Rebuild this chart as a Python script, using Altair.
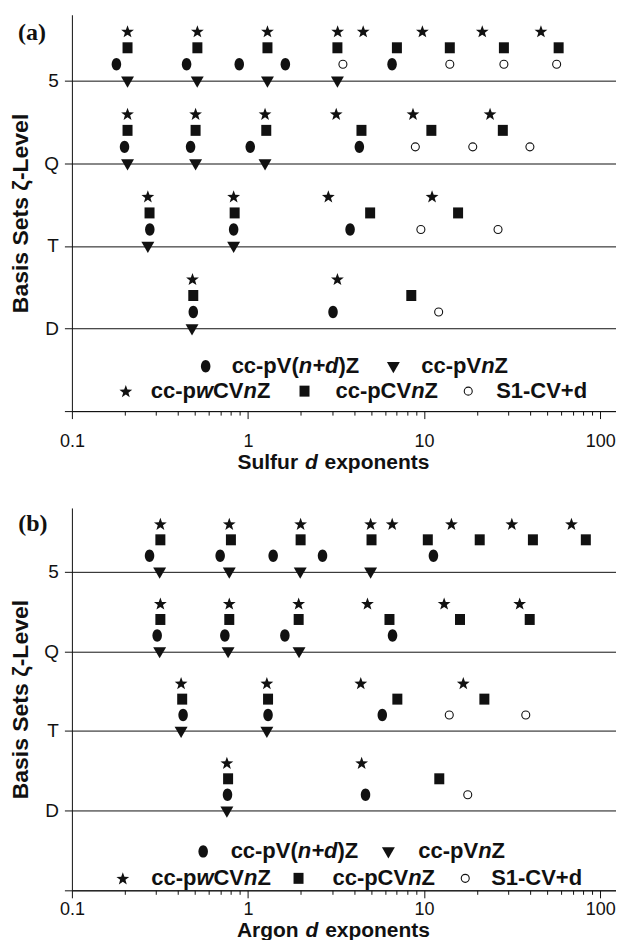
import altair as alt
import pandas as pd

INK = "#111111"
SANS = "Liberation Sans"
SERIF = "Liberation Serif"

LEVEL_NUM = {"D": 1, "T": 2, "Q": 3, "5": 4}

# ---------------- Panel (a): Sulfur d exponents ----------------
S_pVndZ = {"5": [0.179, 0.448, 0.892, 1.63, 6.58], "Q": [0.199, 0.472, 1.03, 4.29],
           "T": [0.277, 0.829, 3.80], "D": [0.489, 3.04]}
S_pVnZ = {"5": [0.207, 0.515, 1.29, 3.22], "Q": [0.207, 0.504, 1.25],
          "T": [0.270, 0.829], "D": [0.481]}
S_pwCVnZ = {"5": [0.207, 0.516, 1.29, 3.23, 4.51, 9.78, 21.4, 46.1],
            "Q": [0.207, 0.504, 1.25, 3.17, 8.65, 23.7],
            "T": [0.270, 0.829, 2.86, 11.1], "D": [0.484, 3.22]}
S_pCVnZ = {"5": [0.207, 0.516, 1.29, 3.22, 7.01, 14.0, 28.4, 58.1],
           "Q": [0.207, 0.504, 1.27, 4.41, 11.0, 28.0],
           "T": [0.276, 0.840, 4.94, 15.6], "D": [0.489, 8.46]}
S_S1CVd = {"5": [3.46, 14.0, 28.4, 56.6], "Q": [8.92, 18.9, 39.9],
           "T": [9.59, 26.3], "D": [12.1]}

# ---------------- Panel (b): Argon d exponents ----------------
A_pVndZ = {"5": [0.276, 0.695, 1.39, 2.65, 11.3], "Q": [0.305, 0.739, 1.62, 6.62],
           "T": [0.428, 1.30, 5.79], "D": [0.765, 4.65]}
A_pVnZ = {"5": [0.315, 0.783, 1.98, 4.97], "Q": [0.315, 0.771, 1.95],
          "T": [0.417, 1.28], "D": [0.759]}
A_pwCVnZ = {"5": [0.318, 0.783, 1.99, 4.97, 6.59, 14.3, 31.5, 68.7],
            "Q": [0.318, 0.783, 1.94, 4.77, 13.0, 34.9],
            "T": [0.417, 1.28, 4.37, 16.7], "D": [0.759, 4.42]}
A_pCVnZ = {"5": [0.318, 0.800, 1.99, 5.03, 10.5, 20.7, 41.5, 82.9],
           "Q": [0.318, 0.783, 1.94, 6.36, 16.0, 39.8],
           "T": [0.423, 1.30, 7.05, 22.0], "D": [0.771, 12.2]}
A_S1CVd = {"5": [], "Q": [], "T": [13.9, 37.8], "D": [17.7]}

SERIES = ["cc-pV(n+d)Z", "cc-pVnZ", "cc-pwCVnZ", "cc-pCVnZ", "S1-CV+d"]
SULFUR = dict(zip(SERIES, [S_pVndZ, S_pVnZ, S_pwCVnZ, S_pCVnZ, S_S1CVd]))
ARGON = dict(zip(SERIES, [A_pVndZ, A_pVnZ, A_pwCVnZ, A_pCVnZ, A_S1CVd]))

X_TICKS = [0.1, 0.2, 0.3, 0.4, 0.5, 0.6, 0.7, 0.8, 0.9,
           1, 2, 3, 4, 5, 6, 7, 8, 9,
           10, 20, 30, 40, 50, 60, 70, 80, 90, 100]
X_MAJOR = [0.1, 1, 10, 100]

# ---------------- styles ----------------
ELLIPSE = "M0,-1A0.76,1 0 1,1 0,1A0.76,1 0 1,1 0,-1Z"
RECT = "M-0.91,-1L0.91,-1L0.91,1L-0.91,1Z"
STAR = ("M0,-0.995L0.265,-0.259L1.046,-0.235L0.428,0.244L0.647,0.995L0,0.555"
        "L-0.647,0.995L-0.428,0.244L-1.046,-0.235L-0.265,-0.259Z")
TRI = "M-1.08,-0.7L1.08,-0.7L0,1.17Z"

STYLE = {
    "cc-pV(n+d)Z": dict(shape=ELLIPSE, size=156, filled=True, color=INK, strokeWidth=0),
    "cc-pVnZ": dict(shape=TRI, size=144, filled=True, color=INK, strokeWidth=0),
    "cc-pwCVnZ": dict(shape=STAR, size=150, filled=True, color=INK, strokeWidth=0),
    "cc-pCVnZ": dict(shape=RECT, size=121, filled=True, color=INK, strokeWidth=0),
    "S1-CV+d": dict(shape="circle", size=64, filled=True, fill="white", stroke=INK,
                    strokeWidth=1.1),
}
OFFSET = {"cc-pVnZ": 0.0, "cc-pV(n+d)Z": 0.2, "S1-CV+d": 0.2, "cc-pCVnZ": 0.4,
          "cc-pwCVnZ": 0.6}

LEGEND_TEXT = {
    "cc-pV(n+d)Z": [("cc-pV(", "normal"), ("n+d", "italic"), (")Z", "normal")],
    "cc-pVnZ": [("cc-pV", "normal"), ("n", "italic"), ("Z", "normal")],
    "cc-pwCVnZ": [("cc-p", "normal"), ("w", "italic"), ("CV", "normal"), ("n", "italic"),
                  ("Z", "normal")],
    "cc-pCVnZ": [("cc-pCV", "normal"), ("n", "italic"), ("Z", "normal")],
    "S1-CV+d": [("S1-CV+d", "normal")],
}

# Arial/Liberation Sans Bold advance widths (em/1000)
W = {"A": 722, "S": 667, "r": 389, "g": 611, "o": 611, "n": 611, "u": 611, "l": 278,
     "f": 333, "d": 611, "e": 556, "x": 556, "p": 611, "t": 333, "s": 556, " ": 278,
     "c": 556, "-": 333, "V": 667, "(": 333, ")": 333, "+": 584, "Z": 611, "w": 778,
     "C": 722, "1": 556}


def tw(s, size):
    return sum(W.get(ch, 600) for ch in s) / 1000.0 * size


ONE = pd.DataFrame({"k": [0]})


def txt(text, x, y, size, style="normal", align="left", font=SANS, weight="bold"):
    return alt.Chart(ONE).mark_text(
        text=text, align=align, baseline="middle", font=font, fontSize=size,
        fontWeight=weight, fontStyle=style, color=INK
    ).encode(x=alt.value(x), y=alt.value(y))


def rich(segments, x0, y, size):
    out = []
    x = x0
    for s, st in segments:
        out.append(txt(s, x, y, size, style=st))
        x += tw(s, size)
    return out


def frame(data):
    rows = []
    for ser, by_level in data.items():
        for lvl, vals in by_level.items():
            for v in vals:
                rows.append({"series": ser, "level": lvl, "x": v})
    return pd.DataFrame(rows)


def panel(data, height, tag, tag_pos, element, legend_pos, label_pad, title_dy):
    df = frame(data)
    xs = alt.Scale(type="log", domain=[0.1, 123], nice=False)
    ys = alt.Scale(domain=[0, 4.8], nice=False, zero=False)
    major_test = " || ".join(f"datum.value == {m}" for m in X_MAJOR)
    label_expr = " : ".join(f"datum.value == {m} ? '{m}'" for m in X_MAJOR) + " : ''"
    x_axis = alt.Axis(values=X_TICKS, labelExpr=label_expr, title=None, grid=False,
                      tickSize={"condition": {"test": major_test, "value": 7.5}, "value": 4},
                      labelFontSize=18, labelPadding=label_pad, labelFlush=False,
                      labelOverlap=False, labelFont=SANS)
    inv = {v: k for k, v in LEVEL_NUM.items()}
    y_expr = " : ".join(f"datum.value == {n} ? '{inv[n]}'" for n in sorted(inv)) + " : ''"
    y_axis = alt.Axis(values=[0, 1, 2, 3, 4], labelExpr=y_expr, title="Basis Sets ζ-Level",
                      titleFontSize=23, titleFont=SANS, titleFontWeight="bold",
                      titlePadding=11, titleColor=INK, grid=True, gridColor=INK,
                      gridOpacity=1, gridWidth=1, tickSize=7.5, labelPadding=6,
                      labelFontSize=19, labelFont=SANS)
    layers = []
    for ser in ["cc-pwCVnZ", "cc-pCVnZ", "cc-pV(n+d)Z", "S1-CV+d", "cc-pVnZ"]:
        sub = df[df["series"] == ser]
        if len(sub) == 0:
            continue
        ch = alt.Chart(sub).transform_calculate(
            y="(datum.level == 'D' ? 1 : datum.level == 'T' ? 2 : datum.level == 'Q' ? 3 : 4)"
              f" + {OFFSET[ser]}"
        ).mark_point(opacity=1, **STYLE[ser]).encode(
            x=alt.X("x:Q", scale=xs, axis=x_axis),
            y=alt.Y("y:Q", scale=ys, axis=y_axis),
        )
        layers.append(ch)
    # legend
    for ser in SERIES:
        sx, tx, ly = legend_pos[ser]
        st = STYLE[ser]
        layers.append(alt.Chart(ONE).mark_point(opacity=1, **st).encode(
            x=alt.value(sx), y=alt.value(ly)))
        layers += rich(LEGEND_TEXT[ser], tx, ly, 22)
    # panel tag
    layers.append(txt(tag, tag_pos[0], tag_pos[1], 24, font=SERIF, align="center"))
    # x-axis title with italic d
    fs = 21
    gap = tw(" ", fs) + 1
    total = tw(element, fs) + gap + tw("d", fs) + gap + tw("exponents", fs)
    cx = 262
    x0 = cx - total / 2
    ty = height + title_dy
    layers.append(txt(element, x0, ty, fs))
    xd = x0 + tw(element, fs) + gap
    layers.append(txt("d", xd, ty, fs, style="italic"))
    layers.append(txt("exponents", xd + tw("d", fs) + gap, ty, fs))
    return alt.layer(*layers).properties(width=545, height=height)


LEG_A = {"cc-pV(n+d)Z": (134, 160, 352), "cc-pVnZ": (322, 350, 352),
         "cc-pwCVnZ": (54, 79, 377), "cc-pCVnZ": (233, 264, 377), "S1-CV+d": (397, 425, 377)}
LEG_B = {"cc-pV(n+d)Z": (131.5, 159, 344), "cc-pVnZ": (317, 347, 344),
         "cc-pwCVnZ": (51, 79.5, 371), "cc-pCVnZ": (227, 261, 371), "S1-CV+d": (394, 420, 371)}

pa = panel(SULFUR, 397, "(a)", (-40, 18), "Sulfur", LEG_A, 13.5, 52)
pb = panel(ARGON, 383, "(b)", (-39, 16), "Argon", LEG_B, 2.5, 41)

chart = alt.vconcat(pa, pb, spacing=35).properties(
    padding={"left": 1, "top": 6, "right": 0, "bottom": 0}
).configure_view(stroke=None).configure_axis(
    domainColor=INK, tickColor=INK, labelColor=INK, domainWidth=1, tickWidth=1
)

chart.save("out.html", embed_options={"renderer": "svg", "actions": False})
